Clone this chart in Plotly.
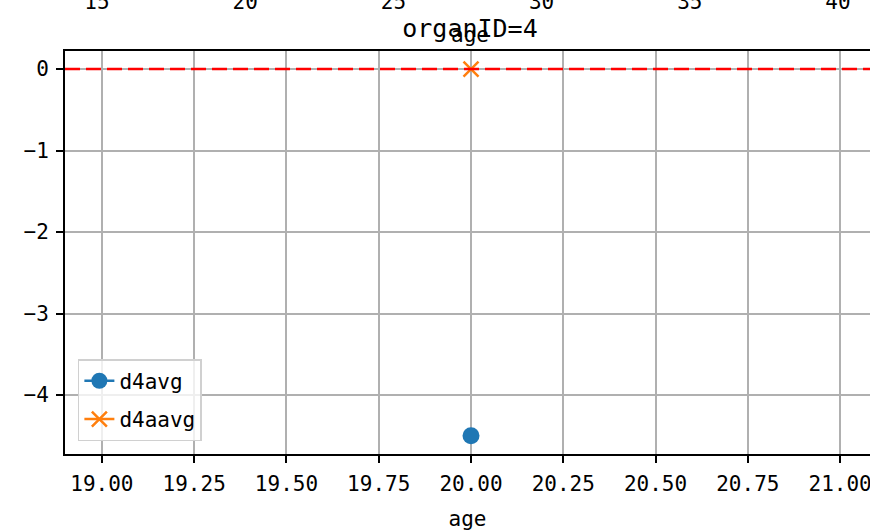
import plotly.graph_objects as go

# ---- data ----
ages = [20.0]
d4avg = [-4.5]
d4aavg = [0.0]
series_names = ["d4avg", "d4aavg"]
ref_line_y = 0.0
x_ticks = [19.00, 19.25, 19.50, 19.75, 20.00, 20.25, 20.50, 20.75, 21.00]
y_ticks = [0, -1, -2, -3, -4]
top_ticks = [15, 20, 25, 30, 35, 40]
title_text = "organID=4"
x_label = "age"

FONT = "DejaVu Sans Mono"
W, H = 870, 531
ML, MT, MB, MR = 65, 51, 77, 0

fig = go.Figure()

fig.add_trace(go.Scatter(
    x=ages, y=d4avg, name=series_names[0], mode="lines+markers",
    marker=dict(symbol="circle", size=17, color="#1f77b4"),
    line=dict(color="#1f77b4", width=2.5),
    legendgroup="a",
))
fig.add_trace(go.Scatter(
    x=ages, y=d4aavg, name=series_names[1], mode="lines+markers",
    marker=dict(symbol="x-thin", size=15, color="#ff7f0e",
                line=dict(color="#ff7f0e", width=2.5)),
    line=dict(color="#ff7f0e", width=2.5),
    legendgroup="b",
))
# invisible trace to carry the top axis
fig.add_trace(go.Scatter(
    x=[top_ticks[0], top_ticks[-1]], y=[ref_line_y, ref_line_y], xaxis="x2",
    mode="lines", line=dict(width=0), showlegend=False, hoverinfo="skip",
))

fig.add_hline(y=ref_line_y, line=dict(color="red", width=2.5, dash="15px,6px"))

fig.update_layout(
    width=W, height=H,
    margin=dict(l=ML, r=MR, t=MT, b=MB, pad=0, autoexpand=False),
    paper_bgcolor="white", plot_bgcolor="white",
    font=dict(family=FONT, size=20, color="black"),
    title=dict(text=title_text, x=470 / W, xanchor="center",
               y=1 - 28 / H, yanchor="middle", yref="container",
               font=dict(family=FONT, size=25, color="black")),
    showlegend=True,
    legend=dict(x=0.016, y=0.032, xanchor="left", yanchor="bottom",
                bgcolor="rgba(255,255,255,0.8)", bordercolor="#d0d0d0",
                borderwidth=1.5, font=dict(family=FONT, size=21),
                tracegroupgap=8),
    xaxis=dict(
        range=[18.9, 21.081], tickvals=x_ticks, tickformat=".2f",
        automargin=False, ticklabeloverflow="allow", ticklabelstandoff=3,
        showgrid=True, gridcolor="#b0b0b0", gridwidth=1.5, zeroline=False,
        showline=True, linecolor="black", linewidth=2, mirror=True,
        ticks="outside", ticklen=7, tickwidth=1.5, tickcolor="black",
        tickfont=dict(family=FONT, size=21),
        title=dict(text=x_label, font=dict(family=FONT, size=21), standoff=17),
    ),
    yaxis=dict(
        range=[-4.724, 0.221], tickvals=y_ticks, automargin=False,
        ticklabelstandoff=3,
        showgrid=True, gridcolor="#b0b0b0", gridwidth=1.5, zeroline=False,
        showline=True, linecolor="black", linewidth=2, mirror=True,
        ticks="outside", ticklen=7, tickwidth=1.5, tickcolor="black",
        tickfont=dict(family=FONT, size=21),
    ),
    xaxis2=dict(
        overlaying="x", side="top", anchor="y", automargin=False,
        range=[13.92, 41.08], tickvals=top_ticks, ticklabeloverflow="allow",
        showgrid=False, zeroline=False, showline=False, ticks="",
        tickfont=dict(family=FONT, size=21), ticklabelstandoff=37,
    ),
)

fig.add_annotation(text=x_label, xref="paper", yref="paper",
                   x=(470 - ML) / (W - ML - MR), y=1 + (51 - 35) / (H - MT - MB),
                   xanchor="center", yanchor="middle", showarrow=False,
                   font=dict(family=FONT, size=21, color="black"))

fig.write_html("out.html",
               config={"displayModeBar": False},
               post_script="document.body.style.margin='0';document.body.style.overflow='hidden';")
